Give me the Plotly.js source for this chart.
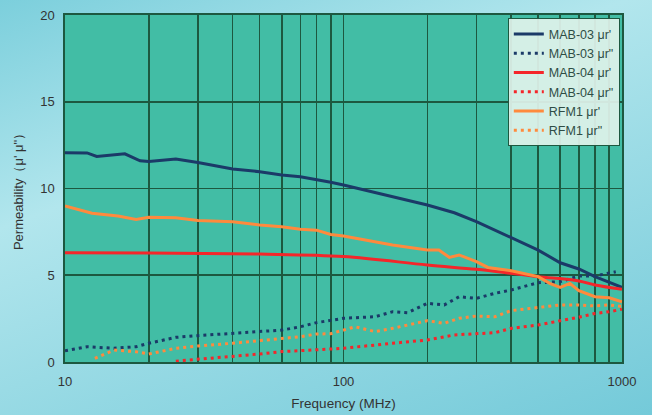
<!DOCTYPE html>
<html><head><meta charset="utf-8">
<script src="https://cdn.plot.ly/plotly-3.0.1.min.js"></script>
<style>
html,body{margin:0;padding:0;}
body{width:652px;height:415px;background:linear-gradient(160deg,#7ccfdc 0%,#b2e6ed 35%,#9adbe5 60%,#74cad9 100%);}
#chart{width:652px;height:415px;}
</style></head><body><div id="chart"></div>
<script>
const mab03rX = [10,12,13,16.4,18.6,20,25,27.5,30,40,50,60,70,90,100,200,250,300,400,500,600,700,800,900,1000];
const mab03rY = [12.06,12.05,11.85,12.0,11.6,11.55,11.7,11.6,11.5,11.12,10.97,10.78,10.68,10.36,10.2,9.05,8.6,8.09,7.14,6.45,5.72,5.36,4.92,4.59,4.3];
const mab03iX = [10,12,15,18,20,25,30,40,50,60,70,80,90,100,130,150,170,200,230,260,300,350,400,500,600,700,800,900,950];
const mab03iY = [0.65,0.88,0.79,0.88,1.08,1.42,1.52,1.65,1.75,1.84,2.03,2.27,2.4,2.52,2.61,2.9,2.84,3.38,3.29,3.76,3.67,3.96,4.15,4.57,4.63,4.96,4.96,5.15,5.2];
const mab04rX = [10,20,50,100,200,300,400,500,700,800,1000];
const mab04rY = [6.3,6.28,6.22,6.08,5.59,5.34,5.11,4.92,4.67,4.44,4.19];
const mab04iX = [25,30,40,50,60,70,80,90,100,150,200,250,300,350,400,500,600,700,800,900,1000];
const mab04iY = [0.05,0.15,0.35,0.46,0.6,0.65,0.69,0.76,0.79,1.08,1.27,1.56,1.61,1.69,1.94,2.13,2.38,2.58,2.8,2.9,3.04];
const rfm1rX = [10,12.5,15.5,18,20,25,30,40,50,60,70,80,90,100,150,200,220,240,260,300,330,400,500,550,600,650,700,800,900,1000];
const rfm1rY = [8.99,8.57,8.41,8.22,8.34,8.32,8.15,8.09,7.9,7.8,7.65,7.6,7.35,7.26,6.74,6.45,6.45,6.03,6.17,5.78,5.45,5.26,4.92,4.53,4.3,4.53,4.11,3.76,3.7,3.47];
const rfm1iX = [12.8,15,18,20,25,30,40,50,60,70,80,90,110,130,150,200,230,260,300,350,400,500,600,700,800,900,1000];
const rfm1iY = [0.21,0.69,0.59,0.46,0.79,0.92,1.08,1.23,1.37,1.46,1.61,1.63,2.03,1.75,1.94,2.38,2.23,2.52,2.65,2.61,2.96,3.15,3.29,3.29,3.23,3.29,3.2];
const xTickVals = [10,20,30,40,50,60,70,80,90,100,200,300,400,500,600,700,800,900,1000];
const xTickText = ['10','','','','','','','','','100','','','','','','','','','1000'];
const names = ["MAB-03 μr'", "MAB-03 μr\"", "MAB-04 μr'", "MAB-04 μr\"", "RFM1 μr'", "RFM1 μr\""];

const navy = '#1b3a68', red = '#f4262a', orange = '#ff8a3d';
const dotDash = '3px,4px';
const traces = [
  {x: mab03rX, y: mab03rY, name: names[0], mode: 'lines', line: {color: navy, width: 3}},
  {x: mab03iX, y: mab03iY, name: names[1], mode: 'lines', line: {color: navy, width: 3, dash: dotDash}},
  {x: mab04rX, y: mab04rY, name: names[2], mode: 'lines', line: {color: red, width: 3, shape: 'spline'}},
  {x: mab04iX, y: mab04iY, name: names[3], mode: 'lines', line: {color: red, width: 3, dash: dotDash}},
  {x: rfm1rX, y: rfm1rY, name: names[4], mode: 'lines', line: {color: orange, width: 3}},
  {x: rfm1iX, y: rfm1iY, name: names[5], mode: 'lines', line: {color: orange, width: 3, dash: dotDash}}
];
const gridC = '#1d5840';
const layout = {
  width: 652, height: 415,
  margin: {l: 65, r: 30, t: 15, b: 53},
  paper_bgcolor: 'rgba(0,0,0,0)',
  plot_bgcolor: '#42bda5',
  font: {family: 'Liberation Sans, Arial, sans-serif', size: 13, color: '#333'},
  showlegend: true,
  legend: {x: 0.795, y: 0.99, xanchor: 'left', yanchor: 'top', bgcolor: 'rgba(225,243,236,0.92)', bordercolor: gridC, borderwidth: 1,
           font: {size: 12.5, color: '#2f4d45'}, tracegroupgap: 0, itemwidth: 30},
  xaxis: {type: 'log', range: [1, 3], tickvals: xTickVals, ticktext: xTickText, showgrid: true, gridcolor: gridC, gridwidth: 1.6,
          showline: true, linecolor: gridC, linewidth: 1.6, mirror: true, zeroline: false, ticks: '', ticklen: 0,
          ticklabelstandoff: 7, tickfont: {size: 13, color: '#333'},
          title: {text: 'Frequency (MHz)', font: {size: 13.5, color: '#333'}, standoff: 10}},
  yaxis: {range: [0, 20], dtick: 5, showgrid: true, gridcolor: gridC, gridwidth: 1.6, zeroline: false,
          showline: true, linecolor: gridC, linewidth: 1.6, mirror: true, ticks: '',
          ticklabelstandoff: 6, tickfont: {size: 13, color: '#333'},
          title: {text: "Permeability（μ' μ\"）", font: {size: 13, color: '#333'}, standoff: 14}}
};
Plotly.newPlot('chart', traces, layout, {displayModeBar: false, staticPlot: true});
</script></body></html>
